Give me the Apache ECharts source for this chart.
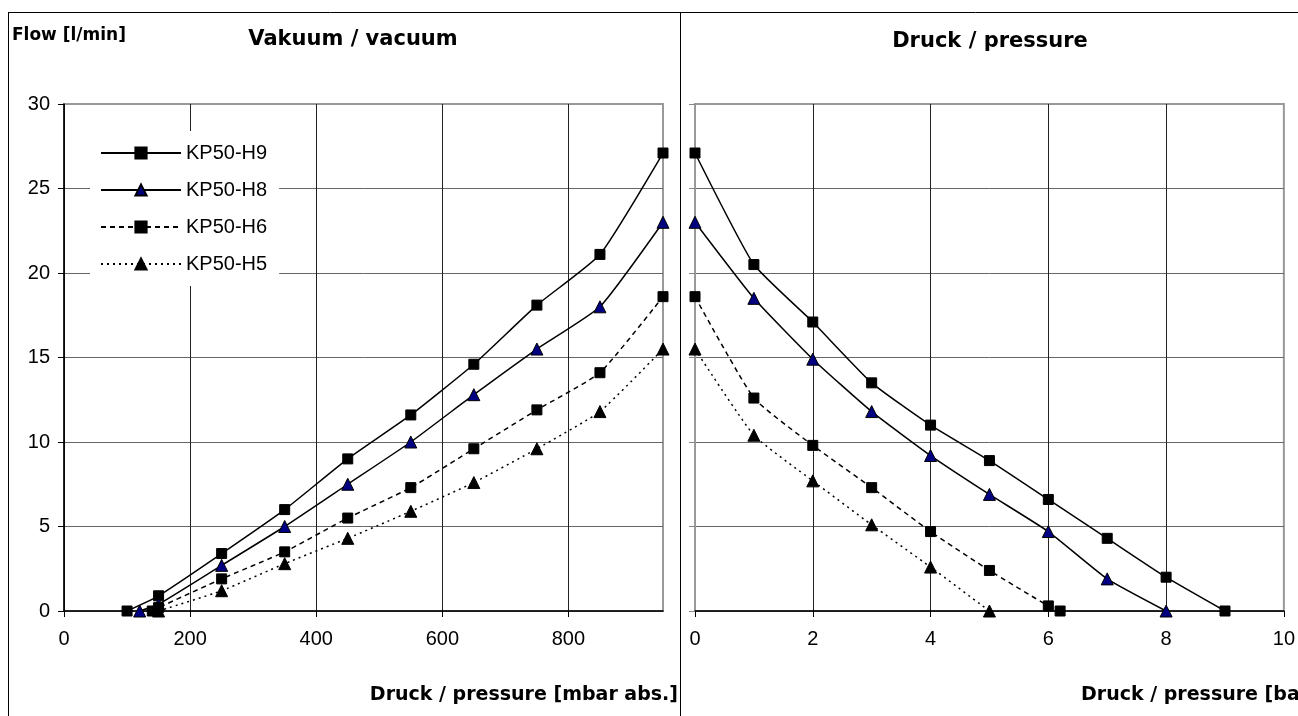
<!DOCTYPE html>
<html>
<head>
<meta charset="utf-8">
<title>KP50 Flow</title>
<script src="https://cdn.jsdelivr.net/npm/echarts@6/dist/echarts.min.js"></script>
<style>
  html, body { margin: 0; padding: 0; background: #fff; }
  #chart { width: 1298px; height: 716px; }
</style>
</head>
<body>
<div id="chart"></div>
<script>
// Series names (legend)
const seriesNames = ['KP50-H9', 'KP50-H8', 'KP50-H6', 'KP50-H5']

// Vakuum / vacuum: pressure [mbar abs.] -> flow [l/min]
const vacP_H9 = [100, 150, 250, 350, 450, 550, 650, 750, 850, 950]
const vacF_H9 = [0, 0.9, 3.4, 6.0, 9.0, 11.6, 14.6, 18.1, 21.1, 27.1]
const vacP_H8 = [120, 150, 250, 350, 450, 550, 650, 750, 850, 950]
const vacF_H8 = [0, 0.4, 2.7, 5.0, 7.5, 10.0, 12.8, 15.5, 18.0, 23.0]
const vacP_H6 = [140, 150, 250, 350, 450, 550, 650, 750, 850, 950]
const vacF_H6 = [0, 0.2, 1.9, 3.5, 5.5, 7.3, 9.6, 11.9, 14.1, 18.6]
const vacP_H5 = [150, 250, 350, 450, 550, 650, 750, 850, 950]
const vacF_H5 = [0, 1.2, 2.8, 4.3, 5.9, 7.6, 9.6, 11.8, 15.5]

// Druck / pressure: pressure [bar] -> flow [l/min]
const prsP_H9 = [0, 1, 2, 3, 4, 5, 6, 7, 8, 9]
const prsF_H9 = [27.1, 20.5, 17.1, 13.5, 11.0, 8.9, 6.6, 4.3, 2.0, 0]
const prsP_H8 = [0, 1, 2, 3, 4, 5, 6, 7, 8]
const prsF_H8 = [23.0, 18.5, 14.9, 11.8, 9.2, 6.9, 4.7, 1.9, 0]
const prsP_H6 = [0, 1, 2, 3, 4, 5, 6, 6.2]
const prsF_H6 = [18.6, 12.6, 9.8, 7.3, 4.7, 2.4, 0.3, 0]
const prsP_H5 = [0, 1, 2, 3, 4, 5]
const prsF_H5 = [15.5, 10.4, 7.7, 5.1, 2.6, 0]

// Axis ranges / ticks
const vacAxis = { min: 0, max: 950, interval: 200 }
const prsAxis = { min: 0, max: 10, interval: 2 }
const flowAxis = { min: 0, max: 30, interval: 5 }

const chart = echarts.init(document.getElementById('chart'))

const styles = {
  'KP50-H9': { symbol: 'rect', symbolSize: 10, fill: '#000', dash: 'solid' },
  'KP50-H8': { symbol: 'triangle', symbolSize: 12, fill: '#000080', dash: 'solid' },
  'KP50-H6': { symbol: 'rect', symbolSize: 10, fill: '#000', dash: [5, 4] },
  'KP50-H5': { symbol: 'triangle', symbolSize: 12, fill: '#000', dash: [2, 4] }
}

function zip(xs, ys) {
  return xs.map((x, i) => [x, ys[i]])
}

function makeSeries(name, xs, ys, idx) {
  const s = styles[name]
  return {
    name: name,
    type: 'line',
    xAxisIndex: idx,
    yAxisIndex: idx,
    data: zip(xs, ys),
    symbol: s.symbol,
    symbolSize: s.symbolSize,
    smooth: 0.15,
    animation: false,
    itemStyle: { color: s.fill, borderColor: '#000', borderWidth: 1 },
    lineStyle: { color: '#000', width: 1.5, type: s.dash },
    z: 3
  }
}

const labelFont = { fontFamily: 'Liberation Sans, Arial, sans-serif', fontSize: 20, color: '#000' }
const boldFont = 'DejaVu Sans, sans-serif'

function xAxisCfg(grid, range, showMax) {
  return {
    type: 'value',
    gridIndex: grid,
    min: range.min,
    max: range.max,
    interval: range.interval,
    axisLine: { show: true, onZero: false, lineStyle: { color: '#000', width: 1.5 } },
    axisTick: { show: true, inside: false, length: 6, lineStyle: { color: '#000' } },
    axisLabel: Object.assign({ margin: 18, showMaxLabel: showMax }, labelFont),
    splitLine: { show: true, showMinLine: grid === 0, showMaxLine: false, lineStyle: { color: '#222', width: 1 } }
  }
}

chart.setOption({
  backgroundColor: '#fff',
  animation: false,
  grid: [
    { left: 64, right: 635, top: 104, bottom: 105, show: true, borderColor: '#999', borderWidth: 2 },
    { left: 695, right: 3, top: 104, bottom: 105, show: true, borderColor: '#999', borderWidth: 2 }
  ],
  legend: {
    data: seriesNames,
    orient: 'vertical',
    left: 90,
    top: 131,
    itemWidth: 80,
    itemHeight: 14,
    itemGap: 17,
    padding: [12, 12, 12, 10],
    backgroundColor: '#fff',
    textStyle: { fontFamily: 'Liberation Sans, Arial, sans-serif', fontSize: 20, color: '#000' },
    selectedMode: false
  },
  xAxis: [
    xAxisCfg(0, vacAxis, false),
    xAxisCfg(1, prsAxis, true)
  ],
  yAxis: [
    {
      type: 'value',
      gridIndex: 0,
      min: flowAxis.min,
      max: flowAxis.max,
      interval: flowAxis.interval,
      axisLine: { show: true, lineStyle: { color: '#000', width: 1.5 } },
      axisTick: { show: true, inside: false, length: 6, lineStyle: { color: '#000' } },
      axisLabel: Object.assign({ margin: 14 }, labelFont),
      splitLine: { show: true, showMaxLine: false, lineStyle: { color: '#666', width: 1 } }
    },
    {
      type: 'value',
      gridIndex: 1,
      min: flowAxis.min,
      max: flowAxis.max,
      interval: flowAxis.interval,
      axisLine: { show: true, lineStyle: { color: '#999', width: 2 } },
      axisTick: { show: true, inside: false, length: 6, lineStyle: { color: '#888' } },
      axisLabel: { show: false },
      splitLine: { show: true, showMaxLine: false, lineStyle: { color: '#666', width: 1 } }
    }
  ],
  graphic: [
    // outer frame and divider
    { type: 'line', shape: { x1: 8, y1: 12.5, x2: 1298, y2: 12.5 }, style: { stroke: '#000', lineWidth: 1 }, silent: true },
    { type: 'line', shape: { x1: 8.5, y1: 12, x2: 8.5, y2: 716 }, style: { stroke: '#000', lineWidth: 1 }, silent: true },
    { type: 'line', shape: { x1: 680.5, y1: 12, x2: 680.5, y2: 716 }, style: { stroke: '#000', lineWidth: 1 }, silent: true },
    // texts
    { type: 'text', x: 12, y: 36, style: { text: 'Flow [l/min]', font: 'bold 17px ' + boldFont, fill: '#000', verticalAlign: 'middle' } },
    { type: 'text', x: 353, y: 40, style: { text: 'Vakuum / vacuum', font: 'bold 21px ' + boldFont, fill: '#000', align: 'center', verticalAlign: 'middle' } },
    { type: 'text', x: 990, y: 42, style: { text: 'Druck / pressure', font: 'bold 21px ' + boldFont, fill: '#000', align: 'center', verticalAlign: 'middle' } },
    { type: 'text', x: 678, y: 695, style: { text: 'Druck / pressure [mbar abs.]', font: 'bold 19px ' + boldFont, fill: '#000', align: 'right', verticalAlign: 'middle' } },
    { type: 'text', x: 1081, y: 695, style: { text: 'Druck / pressure [bar]', font: 'bold 19px ' + boldFont, fill: '#000', align: 'left', verticalAlign: 'middle' } }
  ],
  series: [
    makeSeries('KP50-H9', vacP_H9, vacF_H9, 0),
    makeSeries('KP50-H8', vacP_H8, vacF_H8, 0),
    makeSeries('KP50-H6', vacP_H6, vacF_H6, 0),
    makeSeries('KP50-H5', vacP_H5, vacF_H5, 0),
    makeSeries('KP50-H9', prsP_H9, prsF_H9, 1),
    makeSeries('KP50-H8', prsP_H8, prsF_H8, 1),
    makeSeries('KP50-H6', prsP_H6, prsF_H6, 1),
    makeSeries('KP50-H5', prsP_H5, prsF_H5, 1)
  ]
})

window.addEventListener('resize', () => chart.resize())
</script>
</body>
</html>
